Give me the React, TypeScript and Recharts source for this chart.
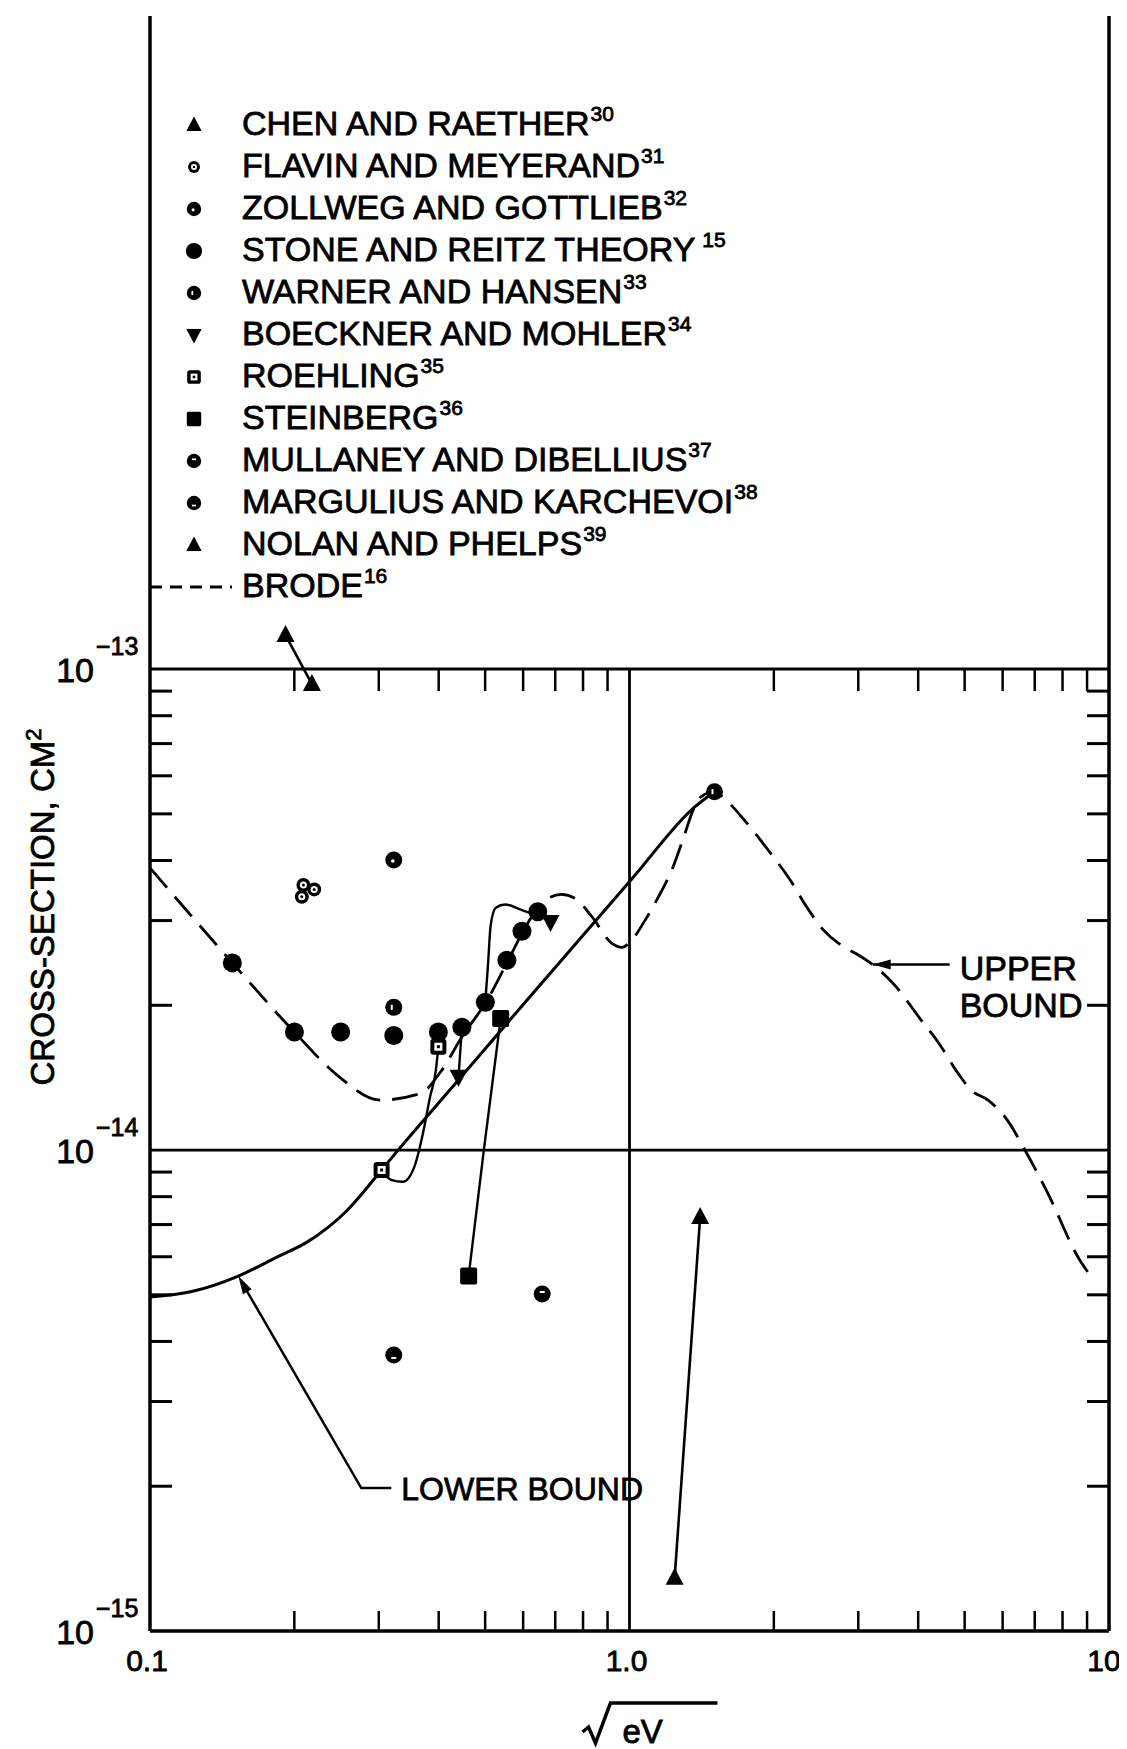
import React from "react";
import {
  ComposedChart,
  XAxis,
  YAxis,
  Line,
  Scatter,
  ReferenceLine,
  ReferenceDot,
  Legend,
} from "recharts";

const FONT = "'Liberation Sans', Arial, sans-serif";
const INK = { stroke: "#000", strokeWidth: 0.8 };
const W = 1119;
const H = 1741;
const Y_MIN = 1e-15;
const Y_MAX = 2.28e-12;

// axis ticks (sqrt(eV) and cm^2)
const xTicks = [0.1, 0.2, 0.3, 0.4, 0.5, 0.6, 0.7, 0.8, 0.9, 1, 2, 3, 4, 5, 6, 7, 8, 9, 10];
const yTicks = [
  1e-15, 2e-15, 3e-15, 4e-15, 5e-15, 6e-15, 7e-15, 8e-15, 9e-15,
  1e-14, 2e-14, 3e-14, 4e-14, 5e-14, 6e-14, 7e-14, 8e-14, 9e-14, 1e-13,
];
const xTickLabels: Record<string, string> = { "0.1": "0.1", "1": "1.0", "10": "10" };
const topTickXs = [0.2, 0.3, 0.4, 0.5, 0.6, 0.7, 0.8, 0.9, 2, 3, 4, 5, 6, 7, 8, 9];

// curves
const brodeUpper = [
  { x: 0.1, y: 3.86e-14 },
  { x: 0.1485, y: 2.45e-14 },
  { x: 0.2, y: 1.76e-14 },
  { x: 0.248, y: 1.42e-14 },
  { x: 0.301, y: 1.27e-14 },
  { x: 0.366, y: 1.31e-14 },
  { x: 0.405, y: 1.46e-14 },
  { x: 0.449, y: 1.73e-14 },
  { x: 0.502, y: 2.03e-14 },
  { x: 0.556, y: 2.46e-14 },
  { x: 0.599, y: 2.84e-14 },
  { x: 0.64, y: 3.16e-14 },
  { x: 0.675, y: 3.33e-14 },
  { x: 0.721, y: 3.4e-14 },
  { x: 0.769, y: 3.34e-14 },
  { x: 0.834, y: 3.06e-14 },
  { x: 0.919, y: 2.69e-14 },
  { x: 0.965, y: 2.64e-14 },
  { x: 1.0, y: 2.7e-14 },
  { x: 1.079, y: 3.01e-14 },
  { x: 1.149, y: 3.36e-14 },
  { x: 1.225, y: 3.82e-14 },
  { x: 1.305, y: 4.55e-14 },
  { x: 1.357, y: 5.09e-14 },
  { x: 1.412, y: 5.43e-14 },
  { x: 1.504, y: 5.56e-14 },
  { x: 1.577, y: 5.38e-14 },
  { x: 1.734, y: 4.86e-14 },
  { x: 1.969, y: 4.14e-14 },
  { x: 2.165, y: 3.64e-14 },
  { x: 2.342, y: 3.2e-14 },
  { x: 2.536, y: 2.87e-14 },
  { x: 2.789, y: 2.65e-14 },
  { x: 2.971, y: 2.56e-14 },
  { x: 3.266, y: 2.4e-14 },
  { x: 3.592, y: 2.19e-14 },
  { x: 4.013, y: 1.89e-14 },
  { x: 4.413, y: 1.67e-14 },
  { x: 4.853, y: 1.44e-14 },
  { x: 5.169, y: 1.33e-14 },
  { x: 5.595, y: 1.27e-14 },
  { x: 6.152, y: 1.15e-14 },
  { x: 6.678, y: 1.0e-14 },
  { x: 7.442, y: 8.16e-15 },
  { x: 8.713, y: 5.88e-15 },
  { x: 9.03, y: 5.58e-15 },
];

const lowerBound = [
  { x: 0.1, y: 4.95e-15 },
  { x: 0.1222, y: 5.08e-15 },
  { x: 0.1528, y: 5.47e-15 },
  { x: 0.184, y: 5.99e-15 },
  { x: 0.2134, y: 6.45e-15 },
  { x: 0.257, y: 7.47e-15 },
  { x: 0.3041, y: 9.09e-15 },
  { x: 0.3315, y: 1.008e-14 },
  { x: 0.4295, y: 1.36e-14 },
  { x: 0.6034, y: 2.02e-14 },
  { x: 1.013, y: 3.67e-14 },
  { x: 1.368, y: 5.17e-14 },
  { x: 1.504, y: 5.56e-14 },
];

const roehlingCurve = [
  { x: 0.3041, y: 9.09e-15 },
  { x: 0.3184, y: 8.67e-15 },
  { x: 0.3368, y: 8.59e-15 },
  { x: 0.356, y: 9.24e-15 },
  { x: 0.3729, y: 1.111e-14 },
  { x: 0.3835, y: 1.286e-14 },
  { x: 0.3945, y: 1.462e-14 },
  { x: 0.3994, y: 1.64e-14 },
];

const humpCurve = [
  { x: 0.5003, y: 2.03e-14 },
  { x: 0.5065, y: 2.4e-14 },
  { x: 0.5134, y: 2.93e-14 },
  { x: 0.5261, y: 3.19e-14 },
  { x: 0.5509, y: 3.24e-14 },
  { x: 0.5934, y: 3.16e-14 },
  { x: 0.6456, y: 3.07e-14 },
  { x: 0.6823, y: 3.01e-14 },
];

const steinbergLine = [
  { x: 0.4619, y: 5.47e-15 },
  { x: 0.4968, y: 1.0e-14 },
  { x: 0.5387, y: 1.878e-14 },
];
const boecknerLine = [
  { x: 0.44, y: 1.42e-14 },
  { x: 0.4472, y: 1.8e-14 },
];

// measurements
const chenRaether = [
  { x: 0.1917, y: 1.177e-13 },
  { x: 0.2176, y: 9.31e-14 },
];
const flavinMeyerand = [
  { x: 0.2089, y: 3.556e-14 },
  { x: 0.22, y: 3.483e-14 },
  { x: 0.2073, y: 3.362e-14 },
];
const zollwegGottlieb = [{ x: 0.3224, y: 4.01e-14 }];
const stoneReitz = [
  { x: 0.1485, y: 2.45e-14 },
  { x: 0.2001, y: 1.76e-14 },
  { x: 0.2498, y: 1.76e-14 },
  { x: 0.3224, y: 1.73e-14 },
  { x: 0.3994, y: 1.76e-14 },
  { x: 0.4472, y: 1.8e-14 },
  { x: 0.5005, y: 2.03e-14 },
  { x: 0.555, y: 2.48e-14 },
  { x: 0.5967, y: 2.85e-14 },
  { x: 0.6438, y: 3.13e-14 },
];
const warnerHansen = [
  { x: 0.3224, y: 1.98e-14 },
  { x: 1.504, y: 5.56e-14 },
];
const boecknerMohler = [
  { x: 0.44, y: 1.42e-14 },
  { x: 0.6844, y: 2.98e-14 },
];
const roehling = [
  { x: 0.3041, y: 9.09e-15 },
  { x: 0.3994, y: 1.64e-14 },
];
const steinberg = [
  { x: 0.4619, y: 5.47e-15 },
  { x: 0.5387, y: 1.878e-14 },
];
const mullaneyDibellius = [{ x: 0.6576, y: 5.02e-15 }];
const marguliusKarchevoi = [{ x: 0.3224, y: 3.75e-15 }];
const nolanPhelps = [
  { x: 1.242, y: 1.29e-15 },
  { x: 1.404, y: 7.26e-15 },
];

const legendItems = [
  { name: "CHEN AND RAETHER", ref: "30", kind: "tri" },
  { name: "FLAVIN AND MEYERAND", ref: "31", kind: "ring" },
  { name: "ZOLLWEG AND GOTTLIEB", ref: "32", kind: "dot" },
  { name: "STONE AND REITZ THEORY", ref: " 15", kind: "disc" },
  { name: "WARNER AND HANSEN", ref: "33", kind: "warner" },
  { name: "BOECKNER AND MOHLER", ref: "34", kind: "invtri" },
  { name: "ROEHLING", ref: "35", kind: "sqdot" },
  { name: "STEINBERG", ref: "36", kind: "square" },
  { name: "MULLANEY AND DIBELLIUS", ref: "37", kind: "mull" },
  { name: "MARGULIUS AND KARCHEVOI", ref: "38", kind: "marg" },
  { name: "NOLAN AND PHELPS", ref: "39", kind: "tri" },
  { name: "BRODE", ref: "16", kind: "dash" },
];

const isDecade = (v: number) => Math.abs(Math.log10(v) - Math.round(Math.log10(v))) < 1e-6;

function Marker({ kind, cx, cy, s = 1 }: { kind: string; cx: number; cy: number; s?: number }) {
  const k = (v: number) => v * s;
  switch (kind) {
    case "tri":
      return <polygon points={`${cx},${cy - k(10)} ${cx + k(9)},${cy + k(7)} ${cx - k(9)},${cy + k(7)}`} fill="#000" />;
    case "invtri":
      return <polygon points={`${cx - k(9)},${cy - k(7)} ${cx + k(9)},${cy - k(7)} ${cx},${cy + k(10)}`} fill="#000" />;
    case "ring":
      return (
        <g>
          <circle cx={cx} cy={cy} r={k(7)} fill="#000" />
          <circle cx={cx} cy={cy} r={k(3.5)} fill="#fff" />
          <circle cx={cx} cy={cy} r={k(1.5)} fill="#000" />
        </g>
      );
    case "dot":
      return (
        <g>
          <circle cx={cx} cy={cy} r={k(8.5)} fill="#000" />
          <circle cx={cx - k(1)} cy={cy + k(1)} r={k(1.8)} fill="#fff" />
        </g>
      );
    case "disc":
      return <circle cx={cx} cy={cy} r={k(9.5)} fill="#000" />;
    case "warner":
      return (
        <g>
          <circle cx={cx} cy={cy} r={k(8.5)} fill="#000" />
          <rect x={cx - k(3)} y={cy - k(2.5)} width={k(2)} height={k(5)} fill="#fff" />
        </g>
      );
    case "sqdot":
      return (
        <g>
          <rect x={cx - k(8)} y={cy - k(8)} width={k(16)} height={k(16)} rx={k(3)} fill="#000" />
          <rect x={cx - k(4)} y={cy - k(4)} width={k(8)} height={k(8)} fill="#fff" />
          <rect x={cx - k(1.5)} y={cy - k(1.5)} width={k(3)} height={k(3)} fill="#000" />
        </g>
      );
    case "square":
      return <rect x={cx - k(8.5)} y={cy - k(8.5)} width={k(17)} height={k(17)} rx={k(2)} fill="#000" />;
    case "mull":
      return (
        <g>
          <circle cx={cx} cy={cy} r={k(8.5)} fill="#000" />
          <rect x={cx - k(2.5)} y={cy - k(3)} width={k(5)} height={k(2)} fill="#fff" />
        </g>
      );
    case "marg":
      return (
        <g>
          <circle cx={cx} cy={cy} r={k(8.5)} fill="#000" />
          <rect x={cx - k(2.5)} y={cy + k(2)} width={k(5)} height={k(2)} fill="#fff" />
        </g>
      );
    default:
      return null;
  }
}

const shapeOf = (kind: string) => (p: any) => <Marker kind={kind} cx={p.cx} cy={p.cy} />;

const BottomTick = (props: any) => {
  const { x, y, payload } = props;
  const v = payload.value;
  const label = xTickLabels[String(v)];
  return (
    <g>
      {!isDecade(v) && <line x1={x} x2={x} y1={y} y2={y - 20} stroke="#000" strokeWidth={2.5} />}
      {label && (
        <text x={v === 10 ? x - 5 : x - 3} y={y + 40} textAnchor="middle" fontSize={30} fontFamily={FONT} fill="#000" {...INK}>
          {label}
        </text>
      )}
    </g>
  );
};

const LeftTick = (props: any) => {
  const { x, y, payload } = props;
  const v = payload.value;
  if (!isDecade(v)) return <line x1={x} x2={x + 22} y1={y} y2={y} stroke="#000" strokeWidth={3} />;
  const e = Math.round(Math.log10(v));
  return (
    <g fontFamily={FONT} fill="#000" {...INK}>
      <text x={x - 56} y={y + 13} textAnchor="end" fontSize={34}>10</text>
      <text x={x - 54} y={y - 14} textAnchor="start" fontSize={25}>{`\u2212${-e}`}</text>
    </g>
  );
};

const RightTick = (props: any) => {
  const { x, y, payload } = props;
  if (isDecade(payload.value)) return <g />;
  return <line x1={x} x2={x - 22} y1={y} y2={y} stroke="#000" strokeWidth={3} />;
};

const XTitle = (props: any) => {
  const vb = props.viewBox || { x: 142, y: 1623, width: 959, height: 118 };
  const cx = vb.x + vb.width / 2;
  const y0 = vb.y;
  return (
    <g>
      <path
        d={`M${cx - 47},${y0 + 101} L${cx - 41},${y0 + 96} L${cx - 34},${y0 + 112} L${cx - 19},${y0 + 72} L${cx + 88},${y0 + 72}`}
        fill="none"
        stroke="#000"
        strokeWidth={3.5}
      />
      <text x={cx - 7} y={y0 + 112} fontSize={33} fontFamily={FONT} fill="#000" {...INK}>eV</text>
    </g>
  );
};

const YTitle = (props: any) => {
  const vb = props.viewBox || { x: 0, y: 8, width: 142, height: 1615 };
  const x = vb.x + 46;
  const y = vb.y + 891;
  return (
    <text x={x} y={y} transform={`rotate(-90, ${x}, ${y})`} textAnchor="middle" fontSize={33} fontFamily={FONT} fill="#000" {...INK}>
      CROSS-SECTION, CM
      <tspan fontSize={22} dy={-13}>2</tspan>
    </text>
  );
};

const TopTick = (p: any) => <line x1={p.cx} x2={p.cx} y1={p.cy} y2={p.cy + 22} stroke="#000" strokeWidth={2.5} />;

const UpperNote = (p: any) => {
  const { cx, cy } = p;
  return (
    <g fontFamily={FONT} fill="#000">
      <polygon points={`${cx},${cy} ${cx + 18},${cy - 5} ${cx + 18},${cy + 5}`} fill="#000" />
      <line x1={cx} x2={cx + 77} y1={cy} y2={cy} stroke="#000" strokeWidth={2.5} />
      <text x={cx + 87} y={cy + 15} fontSize={34} {...INK}>UPPER</text>
      <text x={cx + 87} y={cy + 52} fontSize={34} {...INK}>BOUND</text>
    </g>
  );
};

const LowerNote = (p: any) => {
  const { cx, cy } = p;
  return (
    <g fontFamily={FONT} fill="#000">
      <polygon points={`${cx},${cy} ${cx + 13.3},${cy + 13.1} ${cx + 4.7},${cy + 18.1}`} fill="#000" />
      <polyline
        points={`${cx + 4},${cy + 7} ${cx + 123},${cy + 212} ${cx + 153},${cy + 212}`}
        fill="none"
        stroke="#000"
        strokeWidth={2.5}
      />
      <text x={cx + 163} y={cy + 224} fontSize={32} {...INK}>LOWER BOUND</text>
    </g>
  );
};

const LegendBlock = () => (
  <div style={{ fontFamily: FONT, color: "#000", WebkitTextStroke: "0.8px #000" }}>
    {legendItems.map((it) => (
      <div key={it.name + it.ref} style={{ display: "flex", alignItems: "center", height: 42 }}>
        <svg width={92} height={42} style={{ flex: "none" }}>
          {it.kind === "dash" ? (
            <line x1={0} x2={82} y1={21} y2={21} stroke="#000" strokeWidth={3} strokeDasharray="12 8" />
          ) : (
            <Marker kind={it.kind} cx={44} cy={21} s={0.85} />
          )}
        </svg>
        <span style={{ fontSize: 34, lineHeight: "42px", whiteSpace: "nowrap" }}>
          {it.name}
          <span style={{ fontSize: 21, position: "relative", top: -14, marginLeft: 1, whiteSpace: "pre" }}>{it.ref}</span>
        </span>
      </div>
    ))}
  </div>
);

export default function App() {
  return (
    <ComposedChart width={W} height={H} margin={{ top: 8, right: 0, bottom: 0, left: 0 }}>
      <XAxis
        type="number"
        dataKey="x"
        scale="log"
        domain={[0.1, 10]}
        allowDataOverflow
        ticks={xTicks}
        interval={0}
        tick={BottomTick}
        tickLine={false}
        tickSize={0}
        tickMargin={0}
        height={118}
        axisLine={{ stroke: "#000", strokeWidth: 3.5 }}
        label={{ content: XTitle }}
      />
      <XAxis
        xAxisId="top"
        orientation="top"
        type="number"
        scale="log"
        domain={[0.1, 10]}
        allowDataOverflow
        height={0}
        tick={false}
        tickLine={false}
        axisLine={{ stroke: "#000", strokeWidth: 3.5 }}
      />
      <YAxis
        type="number"
        dataKey="y"
        scale="log"
        domain={[Y_MIN, Y_MAX]}
        allowDataOverflow
        ticks={yTicks}
        interval={0}
        tick={LeftTick}
        tickLine={false}
        tickSize={0}
        tickMargin={0}
        width={142}
        axisLine={{ stroke: "#000", strokeWidth: 3.5 }}
        label={{ content: YTitle }}
      />
      <YAxis
        yAxisId="right"
        orientation="right"
        type="number"
        scale="log"
        domain={[Y_MIN, Y_MAX]}
        allowDataOverflow
        ticks={yTicks}
        interval={0}
        tick={RightTick}
        tickLine={false}
        tickSize={0}
        tickMargin={0}
        width={18}
        axisLine={{ stroke: "#000", strokeWidth: 3.5 }}
      />

      <ReferenceLine y={1e-13} stroke="#000" strokeWidth={3} />
      <ReferenceLine y={1e-14} stroke="#000" strokeWidth={2.8} />
      <ReferenceLine segment={[{ x: 1, y: 1e-15 }, { x: 1, y: 1e-13 }]} stroke="#000" strokeWidth={2.8} />
      {topTickXs.map((tx) => (
        <ReferenceDot key={`tt-${tx}`} x={tx} y={1e-13} r={0} shape={TopTick} />
      ))}

      <Line data={brodeUpper} dataKey="y" type="monotone" stroke="#000" strokeWidth={2.8} strokeDasharray="26 12" dot={false} isAnimationActive={false} />
      <Line data={lowerBound} dataKey="y" type="monotone" stroke="#000" strokeWidth={3} dot={false} isAnimationActive={false} />
      <Line data={roehlingCurve} dataKey="y" type="monotone" stroke="#000" strokeWidth={2.4} dot={false} isAnimationActive={false} />
      <Line data={humpCurve} dataKey="y" type="monotone" stroke="#000" strokeWidth={2.4} dot={false} isAnimationActive={false} />
      <Line data={steinbergLine} dataKey="y" type="linear" stroke="#000" strokeWidth={2.4} dot={false} isAnimationActive={false} />
      <Line data={boecknerLine} dataKey="y" type="linear" stroke="#000" strokeWidth={2.4} dot={false} isAnimationActive={false} />
      <Line data={chenRaether} dataKey="y" type="linear" stroke="#000" strokeWidth={2.6} dot={false} isAnimationActive={false} />
      <Line data={nolanPhelps} dataKey="y" type="linear" stroke="#000" strokeWidth={2.6} dot={false} isAnimationActive={false} />

      <Scatter name="Chen and Raether" data={chenRaether} shape={shapeOf("tri")} isAnimationActive={false} />
      <Scatter name="Flavin and Meyerand" data={flavinMeyerand} shape={shapeOf("ring")} isAnimationActive={false} />
      <Scatter name="Zollweg and Gottlieb" data={zollwegGottlieb} shape={shapeOf("dot")} isAnimationActive={false} />
      <Scatter name="Stone and Reitz" data={stoneReitz} shape={shapeOf("disc")} isAnimationActive={false} />
      <Scatter name="Warner and Hansen" data={warnerHansen} shape={shapeOf("warner")} isAnimationActive={false} />
      <Scatter name="Boeckner and Mohler" data={boecknerMohler} shape={shapeOf("invtri")} isAnimationActive={false} />
      <Scatter name="Roehling" data={roehling} shape={shapeOf("sqdot")} isAnimationActive={false} />
      <Scatter name="Steinberg" data={steinberg} shape={shapeOf("square")} isAnimationActive={false} />
      <Scatter name="Mullaney and Dibellius" data={mullaneyDibellius} shape={shapeOf("mull")} isAnimationActive={false} />
      <Scatter name="Margulius and Karchevoi" data={marguliusKarchevoi} shape={shapeOf("marg")} isAnimationActive={false} />
      <Scatter name="Nolan and Phelps" data={nolanPhelps} shape={shapeOf("tri")} isAnimationActive={false} />

      <ReferenceDot x={3.215} y={2.43e-14} r={0} shape={UpperNote} />
      <ReferenceDot x={0.1528} y={5.47e-15} r={0} shape={LowerNote} />

      <Legend
        layout="horizontal"
        verticalAlign="middle"
        align="center"
        content={() => <LegendBlock />}
        wrapperStyle={{ left: 142, top: 96, width: "auto", height: "auto", position: "absolute" }}
      />
    </ComposedChart>
  );
}
